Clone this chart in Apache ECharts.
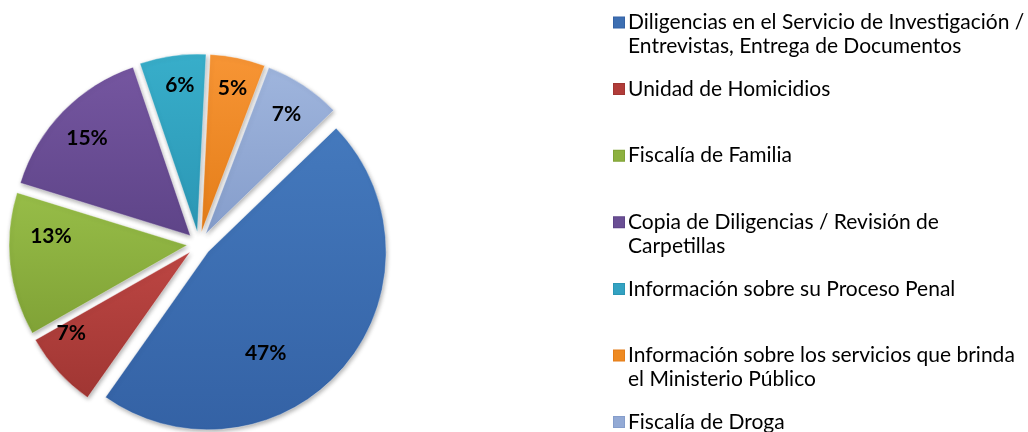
<!DOCTYPE html>
<html>
<head>
<meta charset="utf-8">
<script src="https://cdn.jsdelivr.net/npm/echarts@6/dist/echarts.min.js"></script>
<style>
html,body{margin:0;padding:0;background:#fff;}
#c{width:1028px;height:432px;}
</style>
</head>
<body>
<div id="c"></div>
<script>
// Categories (legend text; "\n" marks where the legend wraps)
var categories = [
  'Diligencias en el Servicio de Investigación /\nEntrevistas, Entrega de Documentos',
  'Unidad de Homicidios',
  'Fiscalía de Familia',
  'Copia de Diligencias / Revisión de\nCarpetillas',
  'Información sobre su Proceso Penal',
  'Información sobre los servicios que brinda\nel Ministerio Público',
  'Fiscalía de Droga'
];
// Percent values
var values = [47, 7, 13, 15, 6, 5, 7];
// Slice colors
var colorsLight = ['#4479bd', '#bd4643', '#97bd48', '#7556a0', '#38aeca', '#f79535', '#9fb5dd'];
var colorsDark  = ['#3462a5', '#a03633', '#80a236', '#5e4488', '#2b96b4', '#e47d18', '#859dcb'];
var colorsIcon  = ['#3d6fb2', '#b13c39', '#8db13f', '#6a4f94', '#33a2c2', '#ee8a22', '#93aad5'];

var center = [199, 244];
var R = 178;

// Excel "best fit" label nudges (px) relative to the ring-centred position
var labelNudge = [[-32, 25], [-10, -18], [10, -25], [2, 5], [3, -1], [1, 0], [0, 3]];

function sliceData(labelFilter) {
  return categories.map(function (name, i) {
    var item = { name: name, value: values[i], selected: true };
    if (labelFilter) {
      item.label = { show: labelFilter(i) };
    }
    return item;
  });
}

var rich = {
  t: { fontFamily: 'Lato', fontSize: 21, lineHeight: 24, color: '#000' },
  g: { width: 4, height: 10 },
  p: { width: 14, height: 10 }
};
colorsIcon.forEach(function (c, i) {
  rich['i' + i] = { width: 10, height: 10, backgroundColor: c, borderColor: colorsDark[i], borderWidth: 1, verticalAlign: 'middle' };
});

var commonPie = {
  type: 'pie',
  center: center,
  startAngle: 44,
  clockwise: true,
  selectedMode: 'multiple',
  selectedOffset: 12,
  animation: false,
  emphasis: { disabled: true },
  labelLine: { show: false }
};

var labelStyle = {
  show: true, position: 'inside', formatter: '{c}%',
  fontFamily: 'Lato', fontWeight: 'bold', fontSize: 21, color: '#000'
};

function nudge(params) {
  var n = labelNudge[params.dataIndex];
  return { dx: n[0], dy: n[1] };
}

var option = {
  backgroundColor: '#ffffff',
  legend: {
    orient: 'vertical',
    left: 608,
    top: 12,
    height: 600,
    padding: 0,
    itemGap: 21.6,
    itemWidth: 0,
    itemHeight: 0,
    icon: 'rect',
    selectedMode: false,
    data: categories,
    textStyle: { rich: rich },
    formatter: function (name) {
      var i = categories.indexOf(name);
      var lines = name.split('\n');
      var s = '{i' + i + '|}{g|}{t|' + lines[0] + '}';
      s += '\n{p|}{t|' + (lines[1] || ' ') + '}';
      return s;
    }
  },
  series: [
    Object.assign({}, commonPie, {
      name: 'main',
      radius: R,
      label: { show: false },
      itemStyle: {
        color: function (p) {
          return {
            type: 'linear', x: 0, y: 0, x2: 0, y2: 1,
            colorStops: [
              { offset: 0, color: colorsLight[p.dataIndex] },
              { offset: 1, color: colorsDark[p.dataIndex] }
            ]
          };
        },
        borderColor: 'rgba(255,255,255,0.35)',
        borderWidth: 1,
        shadowBlur: 4,
        shadowColor: 'rgba(0,0,0,0.3)',
        shadowOffsetX: 1,
        shadowOffsetY: 2
      },
      data: sliceData(null)
    }),
    Object.assign({}, commonPie, {
      name: 'labelsOuter',
      radius: [110, R],
      silent: true,
      itemStyle: { color: 'rgba(0,0,0,0)' },
      label: labelStyle,
      labelLayout: nudge,
      data: sliceData(function (i) { return i !== 0; })
    }),
    Object.assign({}, commonPie, {
      name: 'labelsInner',
      radius: [52, R],
      silent: true,
      itemStyle: { color: 'rgba(0,0,0,0)' },
      label: labelStyle,
      labelLayout: nudge,
      data: sliceData(function (i) { return i === 0; })
    })
  ]
};

var chart = echarts.init(document.getElementById('c'), null, { renderer: 'canvas' });
chart.setOption(option);
</script>
</body>
</html>
